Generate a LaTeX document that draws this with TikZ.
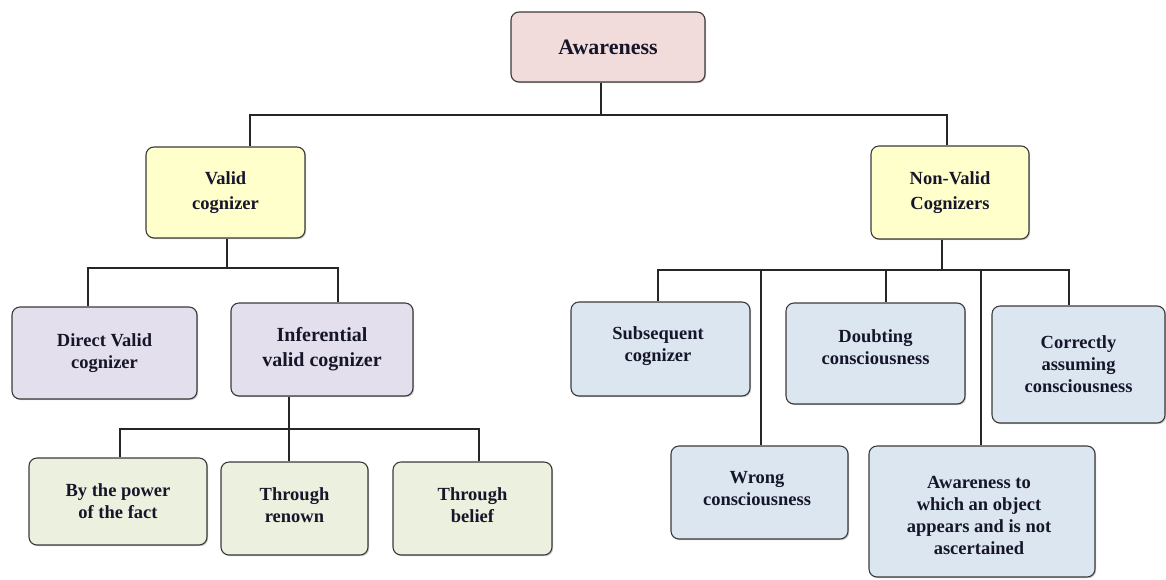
\documentclass[tikz,border=0pt]{standalone}
\usepackage{fontspec}
\setmainfont{Liberation Serif}
\usetikzlibrary{shadows}
\definecolor{pinkfill}{HTML}{F2DCDB}
\definecolor{yellowfill}{HTML}{FFFFCC}
\definecolor{purplefill}{HTML}{E4DFEC}
\definecolor{greenfill}{HTML}{EBF1DE}
\definecolor{bluefill}{HTML}{DCE6F1}
\definecolor{txtcol}{HTML}{16162A}
\definecolor{edgecol}{HTML}{3A3A3A}
\tikzset{
  box/.style={draw=edgecol, line width=1.1pt, rounded corners=8pt, align=center,
    text=txtcol, inner sep=2pt,
    drop shadow={shadow xshift=1.2pt, shadow yshift=-1.2pt, fill=black!45, opacity=0.45},
    font=\bfseries\fontsize{18.5}{22}\selectfont},
  boxtext/.style={align=center, text=txtcol, inner sep=0pt,
    font=\bfseries\fontsize{18.5}{22}\selectfont},
  conn/.style={draw=black!85, line width=1.3pt},
}
\begin{document}
\begin{tikzpicture}[x=1pt,y=-1pt]
\useasboundingbox (0,0) rectangle (1166,579);
% nodes
\node[box, fill=pinkfill, minimum width=194pt, minimum height=70pt,
  font=\bfseries\fontsize{22}{26}\selectfont] (aw) at (608,47) {Awareness};
\node[box, fill=yellowfill, minimum width=159pt, minimum height=91pt,
  font=\bfseries\fontsize{18.5}{25.5}\selectfont] (vc) at (225.5,192.5) {Valid\\cognizer};
\node[box, fill=yellowfill, minimum width=158pt, minimum height=93pt,
  font=\bfseries\fontsize{18.5}{25}\selectfont] (nv) at (950,192.5) {Non-Valid\\Cognizers};
\node[box, fill=purplefill, minimum width=185pt, minimum height=92pt] (dv) at (104.5,353) {Direct Valid\\cognizer};
\node[box, fill=purplefill, minimum width=182pt, minimum height=93pt,
  font=\bfseries\fontsize{20}{25}\selectfont] (iv) at (322,349.5) {Inferential\\valid cognizer};
\node[box, fill=greenfill, minimum width=178pt, minimum height=87pt] (pw) at (118,501.5) {By the power\\of the fact};
\node[box, fill=greenfill, minimum width=147pt, minimum height=93pt] (rn) at (294.5,508.5) {};
\node[boxtext] (rnt) at (294.5,505) {Through\\renown};
\node[box, fill=greenfill, minimum width=159pt, minimum height=93pt] (bf) at (472.5,508.5) {};
\node[boxtext] (bft) at (472.5,505) {Through\\belief};
\node[box, fill=bluefill, minimum width=179pt, minimum height=94pt] (sc) at (660.5,349) {};
\node[boxtext] (sct) at (658,346) {Subsequent\\cognizer};
\node[box, fill=bluefill, minimum width=179pt, minimum height=101pt] (db) at (875.5,353.5) {};
\node[boxtext] (dbt) at (875.5,347) {Doubting\\consciousness};
\node[box, fill=bluefill, minimum width=173pt, minimum height=117pt] (cc) at (1078.5,364.5) {Correctly\\assuming\\consciousness};
\node[box, fill=bluefill, minimum width=177pt, minimum height=93pt] (wc) at (759.5,492.5) {};
\node[boxtext] (wct) at (757,489) {Wrong\\consciousness};
\node[box, fill=bluefill, minimum width=226pt, minimum height=131pt] (ao) at (982,511.5) {};
\node[boxtext] (aot) at (979,515) {Awareness to\\which an object\\appears and is not\\ascertained};
% junctions
\coordinate (t1) at (601,115);
\coordinate (t2) at (227,268);
\coordinate (t3) at (289,429);
\coordinate (t4) at (942,270);
\coordinate (d1) at (886,270);
\coordinate (d2) at (761,270);
\coordinate (d3) at (981,270);
% connectors
\draw[conn] (aw.south -| t1) -- (t1);
\draw[conn] ([xshift=24.5pt]vc.north) |- (t1) -| ([xshift=-3pt]nv.north);
\draw[conn] (vc.south -| t2) -- (t2);
\draw[conn] ([xshift=-16.5pt]dv.north) |- (t2) -| ([xshift=16pt]iv.north);
\draw[conn] (iv.south -| t3) -- (rn.north -| t3);
\draw[conn] ([xshift=2pt]pw.north) |- (t3) -| ([xshift=6.5pt]bf.north);
\draw[conn] (nv.south -| t4) -- (t4);
\draw[conn] ([xshift=-2.5pt]sc.north) |- (t4) -| ([xshift=-9.5pt]cc.north);
\draw[conn] (d2) -- (wc.north -| d2);
\draw[conn] (d3) -- (ao.north -| d3);
\draw[conn] (d1) -- (db.north -| d1);
\end{tikzpicture}
\end{document}
